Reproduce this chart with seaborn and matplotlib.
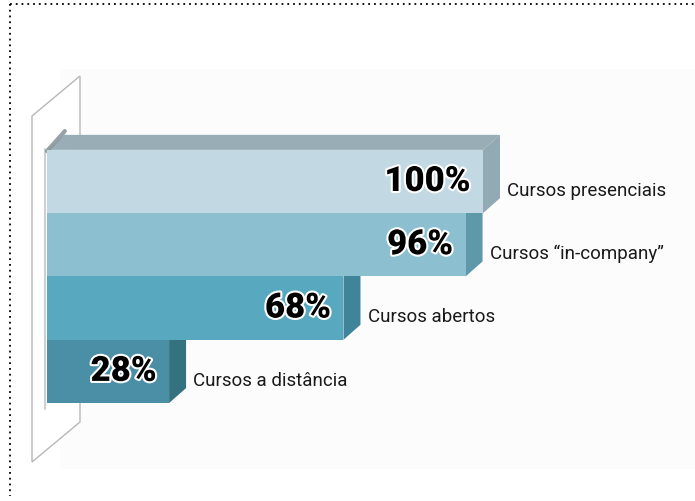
import matplotlib
matplotlib.use("Agg")
import matplotlib.pyplot as plt
import matplotlib.patheffects as pe
from matplotlib.patches import Polygon
from matplotlib.lines import Line2D
import seaborn as sns
import pandas as pd

# ---- data ----
categories = ["Cursos presenciais", "Cursos \u201cin-company\u201d", "Cursos abertos", "Cursos a dist\u00e2ncia"]
values = [100, 96, 68, 28]
value_labels = ["100%", "96%", "68%", "28%"]
front_colors = ["#c2d9e3", "#8cc0d1", "#58a8bf", "#4a8fa6"]
side_colors = ["#92aab4", "#5f99a9", "#3f8499", "#357280"]
top_color = "#98adb5"

df = pd.DataFrame({"cat": categories, "val": values})

sns.set_theme(style="white")
plt.rcParams["font.family"] = ["Roboto", "DejaVu Sans"]

W, H = 695, 502
fig = plt.figure(figsize=(W / 100, H / 100), dpi=100)
ax = fig.add_axes([0, 0, 1, 1])

# pixel mapping helpers (layout only)
PX_PER_UNIT_X = 4.36
X0_PX = 47
PX_PER_UNIT_Y = 63.3
Y0_PX = 182.5
def dx_px(p):
    return p / PX_PER_UNIT_X
def dy_px(p):
    return p / PX_PER_UNIT_Y

# faint background panel
ax.add_patch(Polygon([(dx_px(60 - X0_PX), dy_px(70 - Y0_PX)), (dx_px(W - X0_PX), dy_px(70 - Y0_PX)),
                      (dx_px(W - X0_PX), dy_px(470 - Y0_PX)), (dx_px(60 - X0_PX), dy_px(470 - Y0_PX))],
                     closed=True, facecolor="#fcfcfd", edgecolor="none", zorder=0))

# wall panel behind bars
wall = [(dx_px(32 - X0_PX), dy_px(117 - Y0_PX)), (dx_px(80 - X0_PX), dy_px(77 - Y0_PX)),
        (dx_px(80 - X0_PX), dy_px(423 - Y0_PX)), (dx_px(32 - X0_PX), dy_px(463 - Y0_PX))]
ax.add_patch(Polygon(wall, closed=True, facecolor="white", edgecolor="#b8b8b8", linewidth=1.0, zorder=0.5))
ax.plot([dx_px(45 - X0_PX), dx_px(45 - X0_PX)], [dy_px(150 - Y0_PX), dy_px(410 - Y0_PX)],
        color="#cfcfcf", linewidth=1.5, zorder=0.6)

# front faces via seaborn
sns.barplot(data=df, x="val", y="cat", hue="cat", palette=front_colors, orient="h",
            width=1.0, linewidth=0, legend=False, ax=ax, zorder=3, saturation=1)

depth_x = dx_px(17)
depth_y = -dy_px(15)

# side faces
for i, v in enumerate(values):
    poly = [(v, i - 0.5), (v + depth_x, i - 0.5 + depth_y), (v + depth_x, i + 0.5 + depth_y), (v, i + 0.5)]
    ax.add_patch(Polygon(poly, closed=True, facecolor=side_colors[i], edgecolor="none", zorder=2))

# top face of first bar
v0 = values[0]
top = [(0, -0.5), (depth_x, -0.5 + depth_y), (v0 + depth_x, -0.5 + depth_y), (v0, -0.5)]
ax.add_patch(Polygon(top, closed=True, facecolor=top_color, edgecolor="none", zorder=2))
ax.plot([0, depth_x * 1.05], [-0.5 + 0.02, -0.5 + depth_y * 1.25], color="#8d989c", linewidth=3,
        solid_capstyle="round", zorder=2.5, alpha=0.9)

# value labels
for i, (v, lab) in enumerate(zip(values, value_labels)):
    ax.annotate(lab, xy=(v, i), xytext=(-9, 0), textcoords="offset points",
                ha="right", va="center", fontsize=25, fontweight="black",
                family=["Roboto", "DejaVu Sans"], color="black", zorder=5,
                path_effects=[pe.withStroke(linewidth=3, foreground="white")])

# category labels
for i, (v, c) in enumerate(zip(values, categories)):
    ax.annotate(c, xy=(v, i), xytext=(17.5, -6), textcoords="offset points",
                ha="left", va="center", fontsize=13.5, color="#1a1a1a", zorder=5)

ax.set_xlim(-X0_PX / PX_PER_UNIT_X, (W - X0_PX) / PX_PER_UNIT_X)
ax.set_ylim((H - Y0_PX) / PX_PER_UNIT_Y, -Y0_PX / PX_PER_UNIT_Y)
ax.set_axis_off()

# dotted frame (top and left)
fig.add_artist(Line2D([10 / W, 1.0], [1 - 5 / H, 1 - 5 / H], transform=fig.transFigure,
                      color="black", linewidth=1.3, linestyle=(0, (1, 2.2))))
fig.add_artist(Line2D([10 / W, 10 / W], [1 - 5 / H, 1 - 497 / H], transform=fig.transFigure,
                      color="black", linewidth=1.3, linestyle=(0, (1, 2.2))))

fig.savefig("out.png", dpi=100)
